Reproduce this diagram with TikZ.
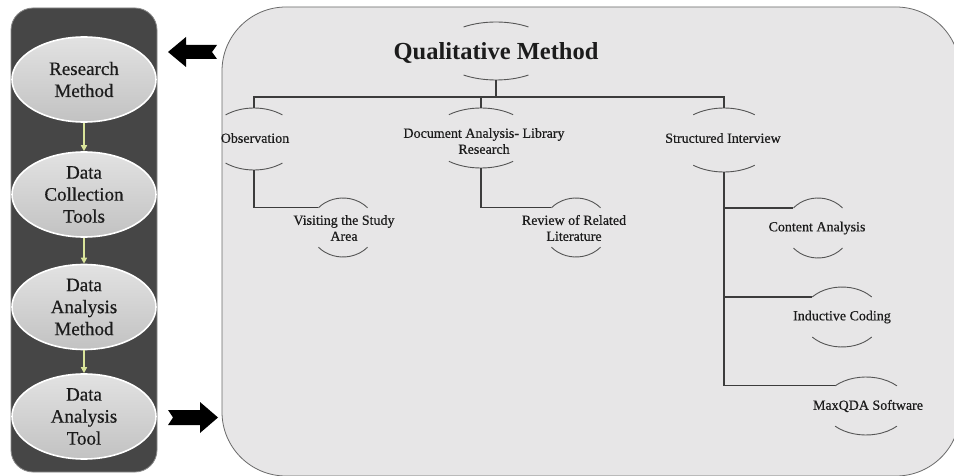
\documentclass[tikz,border=0pt]{standalone}
\usepackage{fontspec}
\setmainfont{Liberation Serif}
\newfontfamily\heavyserif{Liberation Serif}[FakeBold=0.5]
\usetikzlibrary{arrows.meta,shapes.geometric,calc}

\definecolor{panelDark}{HTML}{464646}
\definecolor{panelDarkEdge}{HTML}{8A8A8A}
\definecolor{panelLight}{HTML}{E7E6E7}
\definecolor{panelLightEdge}{HTML}{6A6A6A}
\definecolor{stageTop}{HTML}{E2E2E2}
\definecolor{stageBottom}{HTML}{C2C2C2}
\definecolor{flowLine}{HTML}{D9E49A}
\definecolor{inkText}{HTML}{1C1C1C}
\definecolor{linkLine}{HTML}{3C3C3C}
\definecolor{ovalLine}{HTML}{555555}

% top and bottom arcs of an elliptic frame node:
% #1 node name, #2 x radius, #3 y radius, #4 half opening angle
\newcommand\ovalarcs[4]{%
  \draw[ovalarc] ([shift={({90+#4}:#2 and #3)}]#1.center)
    arc[start angle={90+#4}, end angle={90-#4}, x radius=#2, y radius=#3];
  \draw[ovalarc] ([shift={({270-#4}:#2 and #3)}]#1.center)
    arc[start angle={270-#4}, end angle={270+#4}, x radius=#2, y radius=#3];
  \coordinate (#1-in) at ([shift={({90+#4}:#2 and #3)}]#1.center);%
}

\tikzset{
  stage/.style={ellipse, minimum width=144pt, minimum height=85pt, inner sep=0pt,
    draw=white, line width=1.6pt, top color=stageTop, bottom color=stageBottom,
    text=inkText, align=center, font=\heavyserif\fontsize{19}{22}\selectfont},
  flow/.style={draw=flowLine, line width=1.4pt, -{Triangle[length=6pt,width=6pt]}},
  frame/.style={ellipse, draw=none, inner sep=0pt},
  ovalarc/.style={draw=ovalLine, line width=0.9pt},
  link/.style={draw=linkLine, line width=1.2pt},
  label/.style={text=inkText, align=center, font=\heavyserif\fontsize{14}{16}\selectfont},
  bigarrow/.style={fill=black, draw=none},
}

\begin{document}
\begin{tikzpicture}[x=1pt, y=-1pt]
\useasboundingbox (0,0) rectangle (954,476);
\fill[white] (0,0) rectangle (954,476);

% ---- process column ----
\draw[draw=panelDarkEdge, fill=panelDark, line width=0.8pt, rounded corners=22pt]
  (11,8) rectangle (157,472);

\node[stage] (rm)  at (84,79.5)  {Research\\Method};
\node[stage] (dct) at (84,194.5) {Data\\Collection\\Tools};
\node[stage] (dam) at (84,307)   {Data\\Analysis\\Method};
\node[stage] (dat) at (84,416.5) {Data\\Analysis\\Tool};

\draw[flow] (rm) -- (dct);
\draw[flow] (dct) -- (dam);
\draw[flow] (dam) -- (dat);

% ---- block arrows between the two panels ----
\fill[bigarrow] (168,52) -- (186,37) -- (186,45) -- (217,45) -- (212,52)
  -- (217,59) -- (186,59) -- (186,67) -- cycle;
\fill[bigarrow] (168,410) -- (200,410) -- (200,402) -- (218,417.5) -- (200,433)
  -- (200,425) -- (168,425) -- (173,417.5) -- cycle;

% ---- method panel ----
\draw[draw=panelLightEdge, fill=panelLight, line width=0.8pt, rounded corners=64pt]
  (222,7) rectangle (960,476);

% elliptic frames
\node[frame, minimum width=116pt, minimum height=58pt] (qm)  at (496,51)    {};
\node[frame, minimum width=90pt,  minimum height=62pt] (obs) at (254,139)   {};
\node[frame, minimum width=102pt, minimum height=60pt] (doc) at (481,138)   {};
\node[frame, minimum width=100pt, minimum height=64pt] (si)  at (724,140)   {};
\node[frame, minimum width=66pt,  minimum height=59pt] (vis) at (343,227.5) {};
\node[frame, minimum width=66pt,  minimum height=59pt] (rev) at (576,227.5) {};
\node[frame, minimum width=66pt,  minimum height=60pt] (ca)  at (818,228)   {};
\node[frame, minimum width=80pt,  minimum height=60pt] (ic)  at (842,317)   {};
\node[frame, minimum width=86pt,  minimum height=58pt] (mq)  at (866,406)   {};

\ovalarcs{qm}{58pt}{29pt}{34}
\ovalarcs{obs}{45pt}{31pt}{39}
\ovalarcs{doc}{51pt}{30pt}{39}
\ovalarcs{si}{50pt}{32pt}{38}
\ovalarcs{vis}{33pt}{29.5pt}{48}
\ovalarcs{rev}{33pt}{29.5pt}{48}
\ovalarcs{ca}{33pt}{30pt}{48}
\ovalarcs{ic}{40pt}{30pt}{48}
\ovalarcs{mq}{43pt}{29pt}{46}

% texts
\node[text=inkText, font=\bfseries\fontsize{24.5}{28}\selectfont, anchor=base]
  (qmT) at (496,60) {Qualitative Method};
\node[label] (obsT) at (255,138)   {Observation};
\node[label] (docT) at (484,141)   {Document Analysis- Library\\Research};
\node[label] (siT)  at (723,138)   {Structured Interview};
\node[label] (visT) at (344,228)   {Visiting the Study\\Area};
\node[label] (revT) at (574,228)   {Review of Related\\Literature};
\node[label] (caT)  at (817,228)   {Content Analysis};
\node[label] (icT)  at (842,317)   {Inductive Coding};
\node[label] (mqT)  at (868,406)   {MaxQDA Software};

% hierarchy connectors
\coordinate (bus) at (496,97);
\draw[link] (qm.south) -- (bus);
\draw[link] (bus) -| (obs.north);
\draw[link] (bus) -| (doc.north);
\draw[link] (bus) -| (si.north);
\draw[link] (obs.south) |- (vis-in);
\draw[link] (doc.south) |- (rev-in);
\draw[link] (si.south) |- (ca-in);
\draw[link] (si.south) |- (ic-in);
\draw[link] (si.south) |- (mq-in);
\end{tikzpicture}
\end{document}
